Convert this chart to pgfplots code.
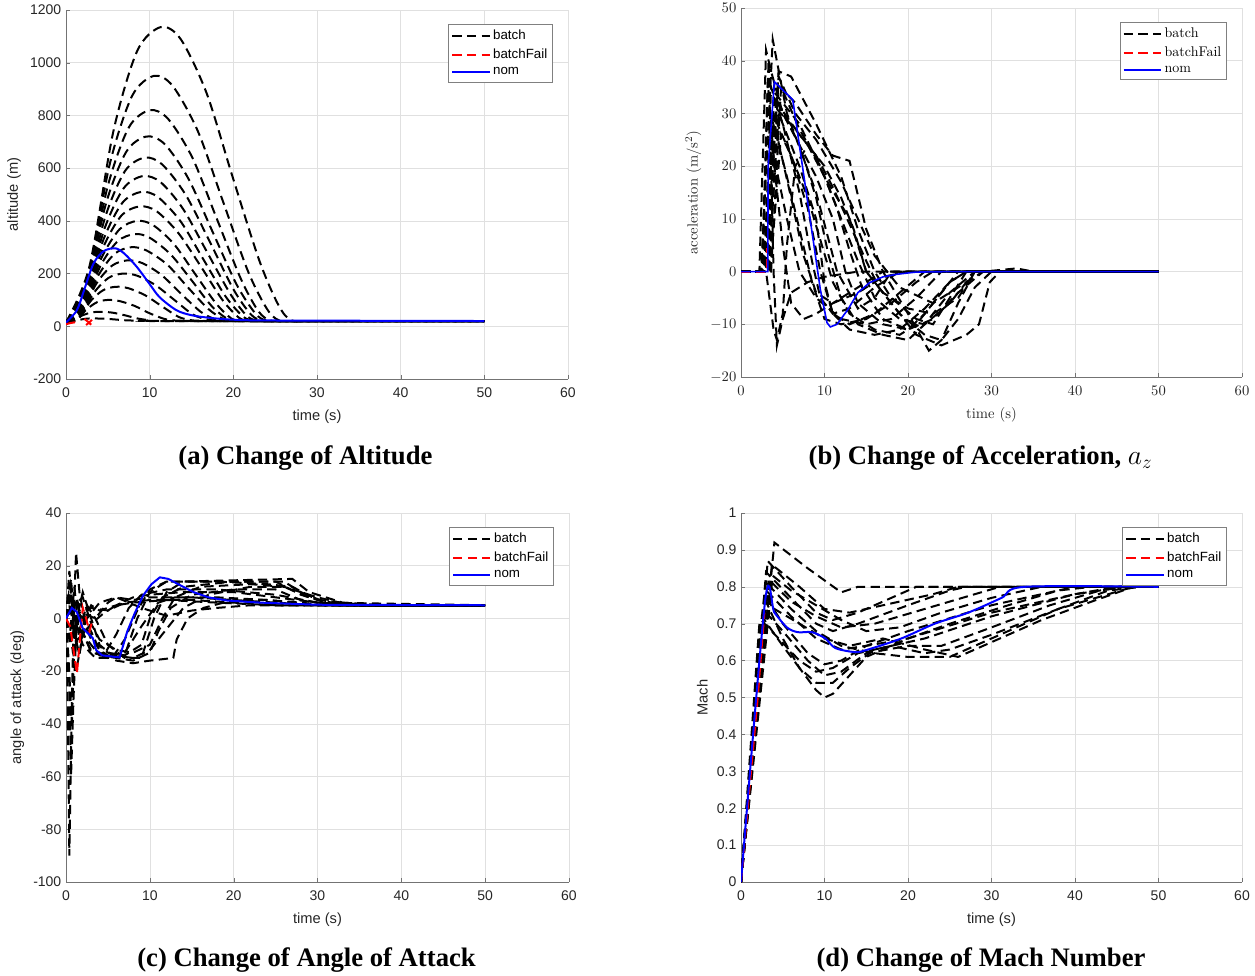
\documentclass[border=0pt]{standalone}
\usepackage{fontspec}
\setmainfont{Liberation Serif}
\setsansfont{Liberation Sans}
\newfontfamily\lmr{Latin Modern Roman}
\usepackage{pgfplots}
\pgfplotsset{compat=1.18}
\pgfplotsset{
 legend image code/.code={\draw[#1] (0pt,0pt) -- (28pt,0pt);},
 mat/.style={scale only axis, axis lines=left, axis line style={black!55,-},
   grid=major, major grid style={black!12}, tick align=inside, major tick length=3pt,
   tick style={black!55}, xmin=0, xmax=60, xtick={0,10,...,60},
   /pgf/number format/1000 sep={},
   xticklabel shift=3pt, xlabel style={yshift=-2.5pt},
   legend style={at={(0.97,0.962)}, anchor=north east, draw=black!50, line width=0.5pt,
     cells={anchor=west}, row sep=1.5pt, inner sep=2pt}},
 sf/.style={tick label style={font=\sffamily\fontsize{10.5}{12}\selectfont, black!85},
   label style={font=\sffamily\fontsize{11}{13}\selectfont, black!85},
   /pgf/number format/assume math mode=true,
   legend style={font=\sffamily\fontsize{10}{12}\selectfont}},
 lm/.style={tick label style={font=\fontsize{10.5}{12}\selectfont, black!85},
   label style={font=\lmr\fontsize{11}{13}\selectfont, black!85},
   legend style={font=\lmr\fontsize{10.5}{12}\selectfont}},
 batch/.style={black, line width=1.5pt, dash pattern=on 7pt off 4pt},
 fail/.style={red, line width=1.5pt, dash pattern=on 7pt off 4pt},
 nom/.style={blue, line width=1.5pt},
}
\begin{document}
\begin{tikzpicture}
\path[use as bounding box] (0,0) rectangle (941.25pt,-731.25pt);
% ---------------- (a) altitude
\begin{axis}[mat, sf, at={(49.5pt,-7.5pt)}, anchor=north west, width=376.5pt, height=276.75pt,
  ymin=-200, ymax=1200, ytick={-200,0,...,1200}, xlabel={time (s)}, ylabel={altitude (m)}]
\addlegendimage{batch}\addlegendentry{batch}
\addlegendimage{fail}\addlegendentry{batchFail}
\addlegendimage{nom}\addlegendentry{nom}
\addplot[batch, smooth, forget plot] coordinates {(0,15)(2.8,227)(5.65,738)(8.5,1044)(11.3,1135)(13.7,1090)(16.8,885)(19.9,568)(23.1,250)(25.4,80)(27,22)(30,20)(50,20)};
\addplot[batch, smooth, forget plot] coordinates {(0,15)(2.6,190)(5.25,618)(7.9,874)(10.5,950)(12.75,912)(15.75,741)(18.75,475)(21.75,209)(24,67)(25.5,22)(28,20)(50,20)};
\addplot[batch, smooth, forget plot] coordinates {(0,15)(2.5,164)(5,533)(7.5,754)(10,820)(12.2,787)(15.1,640)(18,410)(20.9,180)(23,57)(24.5,22)(27,20)(50,20)};
\addplot[batch, smooth, forget plot] coordinates {(0,15)(2.4,144)(4.8,468)(7.2,662)(9.6,720)(11.8,691)(14.6,562)(17.5,360)(20.4,158)(22.6,50)(24,22)(27,20)(50,20)};
\addplot[batch, smooth, forget plot] coordinates {(0,15)(2.35,128)(4.7,416)(7.05,589)(9.4,640)(11.5,614)(14.3,499)(17.2,320)(20,141)(22.1,45)(23.5,22)(26,20)(50,20)};
\addplot[batch, smooth, forget plot] coordinates {(0,15)(2.3,114)(4.6,370)(6.9,524)(9.2,570)(11.3,547)(14,445)(16.8,285)(19.6,125)(21.6,40)(23,22)(26,20)(50,20)};
\addplot[batch, smooth, forget plot] coordinates {(0,15)(2.25,102)(4.5,331)(6.75,469)(9,510)(11,490)(13.7,398)(16.4,255)(19.1,112)(21.2,36)(22.5,22)(25,20)(50,20)};
\addplot[batch, smooth, forget plot] coordinates {(0,15)(2.2,91)(4.4,296)(6.6,419)(8.8,455)(10.8,437)(13.4,355)(16.1,228)(18.7,100)(20.7,32)(22,22)(25,20)(50,20)};
\addplot[batch, smooth, forget plot] coordinates {(0,15)(2.1,80)(4.25,260)(6.4,368)(8.5,400)(10.4,384)(12.9,312)(15.4,200)(17.9,88)(19.75,30)(21,22)(24,20)(50,20)};
\addplot[batch, smooth, forget plot] coordinates {(0,15)(2.05,70)(4.1,228)(6.15,322)(8.2,350)(10,336)(12.5,273)(15,175)(17.4,77)(19.3,28)(20.5,22)(23,20)(50,20)};
\addplot[batch, smooth, forget plot] coordinates {(0,15)(1.95,60)(3.9,195)(5.85,276)(7.8,300)(9.6,288)(12.1,234)(14.5,150)(17,66)(18.8,28)(20,22)(23,20)(50,20)};
\addplot[batch, smooth, forget plot] coordinates {(0,15)(1.8,50)(3.65,163)(5.5,230)(7.3,250)(9.1,240)(11.4,195)(13.7,125)(16.1,55)(17.8,27)(19,22)(22,20)(50,20)};
\addplot[batch, smooth, forget plot] coordinates {(0,15)(1.7,40)(3.4,130)(5.1,184)(6.8,200)(8.5,192)(10.7,156)(12.95,100)(15.2,44)(16.9,26)(18,22)(21,20)(50,20)};
\addplot[batch, smooth, forget plot] coordinates {(0,15)(1.5,30)(3,98)(4.5,138)(6,150)(7.5,144)(9.5,117)(11.5,75)(13.5,35)(15,23)(16,21)(19,20)(50,20)};
\addplot[batch, smooth, forget plot] coordinates {(0,15)(1.25,25)(2.5,65)(3.75,92)(5,100)(6.35,96)(8.15,78)(9.95,50)(11.75,28)(13,22)(14,21)(17,20)(50,20)};
\addplot[batch, smooth, forget plot] coordinates {(0,15)(1,25)(2,42)(3,52)(4,55)(5.5,52)(7,42)(8.5,30)(10,23)(12,20)(50,20)};
\addplot[batch, smooth, forget plot] coordinates {(0,15)(1,20)(2,27)(3,30)(5,28)(7,23)(9,21)(12,20)(50,20)};
\addplot[fail, forget plot] coordinates {(0,8)(0.5,12)(1,15)(1.3,10)};
\addplot[fail, forget plot] coordinates {(2.2,28)(2.6,18)(3,6)};
\addplot[fail, forget plot] coordinates {(2.4,5)(2.8,15)(3.1,25)};
\addplot[nom, smooth, forget plot] coordinates {(0,15)(1.3,61)(2.3,150)(3.3,239)(4.5,285)(5.9,296)(7,275)(8.5,224)(10,160)(11.2,110)(13.2,61)(15,42)(17.2,32)(20,25)(25,22)(50,20)};
\end{axis}
% ---------------- (b) acceleration
\begin{axis}[mat, lm, at={(555.75pt,-6pt)}, anchor=north west, width=375.75pt, height=276.75pt,
  ymin=-20, ymax=50, ytick={-20,-10,...,50}, xlabel={time (s)}, ylabel={acceleration (m/s$^2$)}]
\addlegendimage{batch}\addlegendentry{batch}
\addlegendimage{fail}\addlegendentry{batchFail}
\addlegendimage{blue, line width=1.2pt}\addlegendentry{nom}
\addplot[batch, forget plot] coordinates {(0,0)(2.4,0)(3.8,44)(5.5,30)(9,15)(11.5,0)(14,-7)(16,-5)(18,0)(50,0)};
\addplot[batch, forget plot] coordinates {(0,0)(2.5,0)(3.3,40)(3.9,0)(4.3,-14)(5,-9)(6,-4)(8,-2)(10,-1)(14,0)(50,0)};
\addplot[batch, forget plot] coordinates {(0,0)(3,0)(4.5,38)(6,37)(9,28)(12,18)(14,8)(16,0)(18,-5)(21,-9)(23,-10)(25,-5)(27,0)(50,0)};
\addplot[batch, forget plot] coordinates {(0,0)(3,0)(4,36)(6.5,32)(9,26)(11,22)(13,21)(15,8)(17,0)(20,-8)(22.5,-15)(24,-13)(26,-6)(28,0)(50,0)};
\addplot[batch, forget plot] coordinates {(0,0)(3,0)(4,34)(7,28)(10,18)(13,10)(15,0)(18,-6)(21,-12)(24,-14)(27,-12)(28.5,-10)(29.8,-2)(31,0)(50,0)};
\addplot[batch, forget plot] coordinates {(0,0)(3.2,0)(4.2,33)(7,24)(9,14)(10.5,3)(12,-5)(14,-10)(17,-12)(20,-13)(22,-10)(25,-4)(28,0)(50,0)};
\addplot[batch, forget plot] coordinates {(0,0)(3,0)(3.8,30)(6,22)(8,12)(9.5,0)(11,-8)(13,-10)(16,-8)(19,-4)(22,0)(50,0)};
\addplot[batch, forget plot] coordinates {(0,0)(2.8,0)(3.6,35)(5,28)(7,15)(8.5,2)(9.5,-5)(11,-8)(13,-7)(16,-3)(19,0)(50,0)};
\addplot[batch, forget plot] coordinates {(0,0)(3,0)(4.3,32)(7,26)(10,20)(12,14)(13.5,8)(15,0)(17,-4)(20,-7)(23,-8)(26,-5)(28,0)(50,0)};
\addplot[batch, forget plot] coordinates {(0,0)(3.3,0)(4.5,30)(7,20)(9,10)(10,-2)(11,-8)(13,-11)(16,-12)(19,-11)(22,-7)(25,-2)(27,0)(50,0)};
\addplot[batch, forget plot] coordinates {(0,0)(3,0)(4,28)(6,14)(7.5,3)(9,-4)(11,-6)(14,-4)(17,-1)(20,0)(50,0)};
\addplot[batch, forget plot] coordinates {(0,0)(2.7,0)(3.5,25)(5.5,10)(7,0)(9,-5)(12,-9)(15,-10)(18,-9)(21,-5)(24,0)(50,0)};
\addplot[batch, forget plot] coordinates {(0,0)(3.4,0)(4.5,37)(6.5,30)(9,25)(12,17)(14,10)(16,3)(17.5,0)(19,-3)(23,-6)(26,-3)(29,0)(31,0.3)(33,0.6)(35,0)(50,0)};
\addplot[batch, forget plot] coordinates {(0,0)(3.6,0)(4.8,35)(7,27)(9.5,20)(11.5,12)(13,4)(14.5,-3)(17,-9)(20,-11)(23,-9)(26,-4)(29,0)(50,0)};
\addplot[batch, forget plot] coordinates {(0,0)(2.2,0)(3,42)(3.6,38)(5,30)(7,24)(9,18)(11,10)(12.5,0)(14,-6)(17,-10)(20,-11)(22,-8)(25,-2)(27,0)(50,0)};
\addplot[batch, forget plot] coordinates {(0,0)(3.5,0)(4.8,26)(6,22)(8,14)(9.5,6)(11,-2)(13,-8)(16,-11)(19,-12)(21,-10)(24,-4)(26,0)(50,0)};
\addplot[batch, forget plot] coordinates {(0,0)(2.6,0)(3.2,36)(4,20)(5,5)(6,-6)(7.5,-9)(9,-8)(11,-6)(14,-3)(17,0)(50,0)};
\addplot[batch, forget plot] coordinates {(0,0)(3,0)(3.9,-11)(4.3,-13)(5,-8)(5.5,5)(6.5,20)(8,24)(10,18)(12,10)(14,2)(16,-5)(19,-9)(22,-10)(25,-6)(28,0)(50,0)};
\addplot[batch, forget plot] coordinates {(0,0)(3.1,0)(4.2,31)(6.5,27)(9,22)(11,16)(13,9)(15,2)(16.5,-3)(19,-8)(22,-12)(24,-13)(26,-9)(28,-3)(30,0)(50,0)};
\addplot[batch, forget plot] coordinates {(0,0)(2.9,0)(3.7,29)(5.5,18)(7,8)(8.5,-2)(10,-9)(12,-10)(15,-9)(18,-6)(21,-2)(23,0)(50,0)};
\addplot[fail, forget plot] coordinates {(0,0)(3.1,0)(3.1,4.5)};
\addplot[blue, line width=1.2pt, forget plot] coordinates {(0,0)(3.2,0)(3.25,20)(4,36)(6.2,32.6)(8,13)(9.5,-3.4)(10.3,-9.7)(10.7,-10.5)(11.5,-10)(12.8,-7.2)(14,-4)(15.4,-2.1)(17,-1)(18.7,-0.5)(20.9,-0.1)(25,0)(50,0)};
\end{axis}
% ---------------- (c) angle of attack
\begin{axis}[mat, sf, at={(49.5pt,-384.75pt)}, anchor=north west, width=377.25pt, height=276.75pt,
  ymin=-100, ymax=40, ytick={-100,-80,...,40}, xlabel={time (s)}, ylabel={angle of attack (deg)}]
\addlegendimage{batch}\addlegendentry{batch}
\addlegendimage{fail}\addlegendentry{batchFail}
\addlegendimage{nom}\addlegendentry{nom}
\addplot[batch, forget plot] coordinates {(0,0)(0.2,-30)(0.4,-90)(0.6,-50)(0.9,0)(1.2,25)(1.6,10)(2.2,0)(3,-5)(4,-12)(5,-15)(7,-14)(8.5,0)(10,10)(12,14)(20,14)(26,14)(28,10)(31,6)(35,5)(50,5)};
\addplot[batch, forget plot] coordinates {(0,0)(0.4,18)(0.8,5)(1.2,-10)(1.8,-2)(2.5,5)(3.5,0)(5,-10)(7,-15)(9,-15)(10.5,0)(12,10)(14,14)(27,15)(29,10)(33,6)(38,5)(50,5)};
\addplot[batch, forget plot] coordinates {(0,0)(0.5,12)(1,-5)(1.6,-14)(2.2,0)(3,5)(4,3)(6,5)(8,8)(10,9)(14,10)(20,10)(25,8)(30,6)(35,5)(50,5)};
\addplot[batch, forget plot] coordinates {(0,0)(0.5,-10)(1,5)(2,8)(3,-2)(4,-8)(6,-12)(8,-13)(10,-10)(11.5,0)(13,8)(16,12)(22,13)(26,12)(30,8)(34,5)(50,5)};
\addplot[batch, forget plot] coordinates {(0,0)(0.6,10)(1.4,-8)(2.5,-4)(4,-12)(6,-16)(8,-17)(10,-16)(12.8,-15)(13.2,-8)(14.5,0)(16.4,4)(20,7)(24,7)(28,6)(31,5)(50,5)};
\addplot[batch, forget plot] coordinates {(0,0)(0.5,5)(1,-4)(2,2)(3.5,0)(5,6)(6,8)(8,7)(10,8)(15,8)(20,7)(25,6)(30,5)(50,5)};
\addplot[batch, forget plot] coordinates {(0,0)(0.3,-15)(0.7,-40)(1,-10)(1.3,8)(2,-5)(3,-13)(4.5,-14)(6,-6)(7.5,4)(9,9)(12,11)(18,11)(25,9)(30,6)(35,5)(50,5)};
\addplot[batch, forget plot] coordinates {(0,0)(0.5,8)(1.5,4)(3,-8)(5,-13)(7,-14)(9,-10)(10,0)(11.5,8)(14,12)(20,14)(25,14)(28,9)(31,6)(50,5)};
\addplot[batch, forget plot] coordinates {(0,0)(0.5,3)(1.5,-3)(3,-12)(5,-14)(7,-13)(9,-3)(11,6)(13,8)(18,8)(24,7)(30,5)(50,5)};
\addplot[batch, forget plot] coordinates {(0,0)(0.4,10)(1,0)(2,-10)(3.5,-15)(5.5,-15)(7,-8)(8.5,3)(10,11)(12,14)(18,14)(24,13)(27,12)(30,7)(36,5)(50,5)};
\addplot[batch, forget plot] coordinates {(0,0)(0.6,-8)(1.2,-20)(1.8,-10)(2.5,0)(4,6)(6,8)(9,4)(12,1)(15,3)(18,4)(22,5)(30,5)(50,5)};
\addplot[batch, forget plot] coordinates {(0,0)(0.4,-25)(0.6,-60)(0.9,-30)(1.3,0)(2,10)(3,0)(4,-10)(5.5,-14)(8,-15)(10,-12)(12,-4)(14,4)(17,9)(22,12)(26,12)(29,8)(33,5)(50,5)};
\addplot[batch, forget plot] coordinates {(0,0)(0.3,8)(0.8,-6)(1.5,2)(3,4)(5,3)(7,6)(10,7)(15,7)(20,6)(25,5)(50,5)};
\addplot[batch, forget plot] coordinates {(0,0)(0.5,-5)(1,12)(1.5,-4)(2.5,-8)(4,-14)(6,-15)(8,-16)(10,-13)(11,-5)(12.5,4)(15,9)(20,11)(25,11)(28,7)(32,5)(50,5)};
\addplot[batch, forget plot] coordinates {(0,0)(0.6,15)(1,-2)(2,-6)(3,-2)(4.5,2)(6,5)(8,6)(12,7)(18,6)(25,5)(50,5)};
\addplot[fail, forget plot] coordinates {(0,0)(0.5,-3)(0.9,-12)(1.3,-21)(1.6,-10)(2,4)(2.4,0)(2.8,-5)(3.2,0)};
\addplot[nom, forget plot] coordinates {(0,0)(0.7,4)(1.3,2.4)(2,-3.7)(3.2,-7.5)(3.6,-12)(4.3,-14)(6.4,-14.8)(7.3,-5)(8.2,2)(9.2,8.7)(10.2,13)(11.2,15.6)(12.2,15)(13.2,13.3)(15.2,10)(17,8)(19.2,6.8)(23.2,6)(30,5.2)(50,5)};
\end{axis}
% ---------------- (d) Mach
\begin{axis}[mat, sf, at={(555.75pt,-384.75pt)}, anchor=north west, width=375.75pt, height=276.75pt,
  ymin=0, ymax=1, ytick={0,0.1,...,1.01}, yticklabels={0,0.1,0.2,0.3,0.4,0.5,0.6,0.7,0.8,0.9,1},
  xlabel={time (s)}, ylabel={Mach}]
\addlegendimage{batch}\addlegendentry{batch}
\addlegendimage{fail}\addlegendentry{batchFail}
\addlegendimage{nom}\addlegendentry{nom}
\addplot[batch, forget plot] coordinates {(0,0)(4,0.92)(8,0.85)(12,0.785)(14,0.8)(50,0.8)};
\addplot[batch, forget plot] coordinates {(0,0)(3.2,0.87)(6,0.80)(9,0.73)(11,0.71)(14,0.73)(18,0.77)(21,0.8)(50,0.8)};
\addplot[batch, forget plot] coordinates {(0,0)(3,0.84)(6,0.77)(9,0.70)(11,0.68)(14,0.70)(20,0.75)(25,0.79)(27,0.8)(50,0.8)};
\addplot[batch, forget plot] coordinates {(0,0)(2.8,0.78)(5,0.70)(8,0.62)(10,0.59)(12,0.60)(15,0.64)(20,0.68)(30,0.75)(38,0.79)(42,0.8)(50,0.8)};
\addplot[batch, forget plot] coordinates {(0,0)(3,0.76)(5,0.66)(7,0.58)(9,0.52)(10,0.50)(11,0.51)(13,0.56)(15,0.61)(20,0.66)(30,0.73)(40,0.78)(46,0.8)(50,0.8)};
\addplot[batch, forget plot] coordinates {(0,0)(2.5,0.72)(5,0.64)(7,0.58)(9,0.54)(11,0.54)(13,0.58)(16,0.63)(22,0.66)(30,0.72)(40,0.78)(45,0.8)(50,0.8)};
\addplot[batch, forget plot] coordinates {(0,0)(3.5,0.80)(6,0.74)(9,0.68)(12,0.64)(16,0.62)(20,0.61)(25,0.61)(30,0.66)(38,0.74)(44,0.79)(48,0.8)(50,0.8)};
\addplot[batch, forget plot] coordinates {(0,0)(2.2,0.70)(4,0.74)(7,0.70)(10,0.66)(13,0.64)(17,0.66)(22,0.63)(26,0.61)(30,0.65)(36,0.71)(42,0.76)(47,0.8)(50,0.8)};
\addplot[batch, forget plot] coordinates {(0,0)(3.3,0.82)(6,0.76)(9,0.72)(12,0.69)(16,0.70)(22,0.74)(28,0.78)(31,0.8)(50,0.8)};
\addplot[batch, forget plot] coordinates {(0,0)(3,0.79)(6,0.72)(9,0.66)(12,0.63)(15,0.64)(20,0.66)(25,0.70)(32,0.75)(38,0.79)(40,0.8)(50,0.8)};
\addplot[batch, forget plot] coordinates {(0,0)(2.6,0.74)(5,0.68)(8,0.60)(10,0.56)(12,0.57)(15,0.62)(20,0.64)(24,0.64)(30,0.69)(37,0.75)(43,0.79)(46,0.8)(50,0.8)};
\addplot[batch, forget plot] coordinates {(0,0)(3.7,0.86)(7,0.80)(10,0.74)(13,0.73)(17,0.75)(23,0.78)(26,0.8)(50,0.8)};
\addplot[batch, forget plot] coordinates {(0,0)(2.4,0.71)(4.5,0.66)(7,0.60)(9,0.57)(11,0.58)(14,0.62)(18,0.64)(22,0.62)(25,0.63)(30,0.67)(38,0.74)(44,0.78)(47,0.8)(50,0.8)};
\addplot[batch, forget plot] coordinates {(0,0)(3.8,0.83)(6,0.79)(9,0.75)(12,0.71)(15,0.68)(19,0.69)(24,0.73)(30,0.77)(34,0.79)(36,0.8)(50,0.8)};
\addplot[fail, forget plot] coordinates {(0,0)(1,0.25)(2,0.5)(2.8,0.73)};
\addplot[nom, smooth, forget plot] coordinates {(0,0)(2.9,0.764)(4,0.73)(5.5,0.69)(6.8,0.677)(8.5,0.677)(10.1,0.66)(11.3,0.634)(13.7,0.623)(15.2,0.63)(19.2,0.66)(23.2,0.70)(27.2,0.73)(31.2,0.77)(34,0.80)(50,0.8)};
\end{axis}
% ---------------- captions
\node[font=\bfseries\fontsize{20}{24}\selectfont] at (229.1pt,-343.5pt) {(a) Change of Altitude};
\node[font=\bfseries\fontsize{20}{24}\selectfont] at (735.4pt,-343.5pt) {(b) Change of Acceleration, $a_z$};
\node[font=\bfseries\fontsize{20}{24}\selectfont] at (229.9pt,-720pt) {(c) Change of Angle of Attack};
\node[font=\bfseries\fontsize{20}{24}\selectfont] at (735.75pt,-720pt) {(d) Change of Mach Number};
\end{tikzpicture}
\end{document}
